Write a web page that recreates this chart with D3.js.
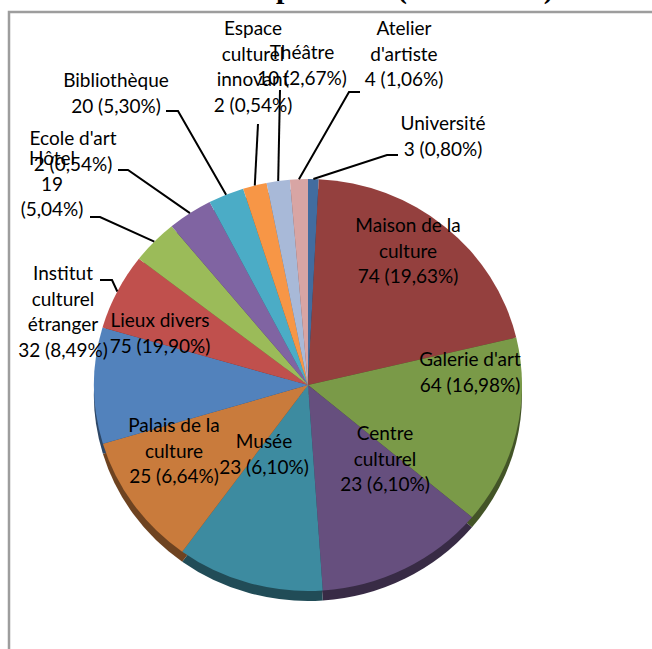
<!DOCTYPE html>
<html>
<head>
<meta charset="utf-8">
<script src="https://cdn.jsdelivr.net/npm/d3@7"></script>
<style>
  body { margin: 0; background: #fff; }
  svg { display: block; }
</style>
</head>
<body>
<svg width="652" height="649"></svg>
<script>
// data, clockwise from 12 o'clock
var categories = ["Université", "Maison de la culture", "Galerie d'art", "Centre culturel", "Musée",
  "Palais de la culture", "Lieux divers", "Institut culturel étranger", "Hôtel", "Ecole d'art",
  "Bibliothèque", "Espace culturel innovant", "Théâtre", "Atelier d'artiste"];
var counts = [3, 74, 64, 23, 23, 25, 75, 32, 19, 2, 20, 2, 10, 4];
var percents = ["0,80", "19,63", "16,98", "6,10", "6,10", "6,64", "19,90", "8,49", "5,04", "0,54", "5,30", "0,54", "2,67", "1,06"];
// share of the circle each slice covers in the picture (it does not follow the labels)
var sliceShares = [0.8, 20.5, 14.8, 12.8, 11.1, 10.4, 9.1, 6.0, 3.5, 3.4, 2.7, 1.8, 1.75, 1.35];

var colors = ["#426c9f", "#94403e", "#7a9a48", "#664f7e", "#3d8ba0", "#c97b3c", "#5282bc",
  "#c0504d", "#9bbb59", "#8064a2", "#4bacc6", "#f79646", "#a8b9d8", "#d8a5a4"];

// where Excel put each label: centre x, first baseline, wrap width, leader start / elbow
var labelLayout = [
  {x: 443, y: 130, w: 100, from: [398, 155], elbow: [387, 155]},
  {x: 408, y: 232, w: 112},
  {x: 470, y: 366, w: 130},
  {x: 385, y: 440, w: 100},
  {x: 264, y: 448, w: 100},
  {x: 174, y: 432, w: 105},
  {x: 160, y: 327, w: 115},
  {x: 63, y: 280, w: 95, from: [100, 280], elbow: [112, 280]},
  {x: 52, y: 165, w: 72, from: [90, 217], elbow: [100, 217]},
  {x: 73, y: 145, w: 100, from: [118, 170], elbow: [128, 170]},
  {x: 116, y: 87, w: 120, from: [166, 111], elbow: [178, 111]},
  {x: 253, y: 35, w: 88, from: [258, 124]},
  {x: 302, y: 59, w: 100, from: [280, 90]},
  {x: 404, y: 35, w: 88, from: [360, 92], elbow: [349, 92]}
];

var svg = d3.select("svg");
var cx = 308, cy = 385, rx = 214, ry = 206, depth = 10, lineH = 25.5;
var labelFont = "Lato, 'Open Sans', sans-serif", labelSize = 19;

// frame
svg.append("rect")
  .attr("x", 9).attr("y", 12)
  .attr("width", 700).attr("height", 700)
  .attr("fill", "none")
  .attr("stroke", "#9d9d9d")
  .attr("stroke-width", 2.5);

// title, cut off by the top of the picture
var title = svg.append("text")
  .attr("y", -2.5)
  .attr("font-family", "'Liberation Serif', 'Times New Roman', serif")
  .attr("font-weight", "bold")
  .attr("font-size", 30)
  .text("Lieux d'expositions (en nombre)");
var pIdx = title.text().indexOf("p");
title.attr("x", 276 - title.node().getStartPositionOfChar(pIdx).x);

var pie = d3.pie().sort(null).value(function(d) { return d; });
var arcs = pie(sliceShares);
var arc = d3.arc().innerRadius(0).outerRadius(rx);
var k = ry / rx;

// side of the 3d pie
var side = svg.append("g")
  .attr("transform", "translate(" + cx + "," + (cy + depth) + ") scale(1," + k + ")");
side.selectAll("path")
  .data(arcs)
  .enter().append("path")
    .attr("d", arc)
    .attr("fill", function(d, i) { return d3.color(colors[i]).darker(1.7); });

// top face
var topFace = svg.append("g")
  .attr("transform", "translate(" + cx + "," + cy + ") scale(1," + k + ")");
topFace.selectAll("path")
  .data(arcs)
  .enter().append("path")
    .attr("d", arc)
    .attr("fill", function(d, i) { return colors[i]; });

// measuring helper for wrapping
var meas = svg.append("text")
  .attr("font-family", labelFont)
  .attr("font-size", labelSize)
  .attr("visibility", "hidden");
function textWidth(s) {
  meas.text(s);
  return meas.node().getComputedTextLength();
}
function wrap(str, maxW) {
  var words = str.split(" "), lines = [], cur = "";
  words.forEach(function(w) {
    var test = cur ? cur + " " + w : w;
    if (cur && textWidth(test) > maxW) { lines.push(cur); cur = w; }
    else cur = test;
  });
  if (cur) lines.push(cur);
  return lines;
}

// leader lines
arcs.forEach(function(d, i) {
  var L = labelLayout[i];
  if (!L.from) return;
  var a = (d.startAngle + d.endAngle) / 2;
  var end = [cx + rx * Math.sin(a), cy - ry * Math.cos(a)];
  var pts = [L.from];
  if (L.elbow) pts.push(L.elbow);
  pts.push(end);
  svg.append("path")
    .attr("d", d3.line()(pts))
    .attr("fill", "none")
    .attr("stroke", "#000")
    .attr("stroke-width", 2);
});

// labels
categories.forEach(function(c, i) {
  var L = labelLayout[i];
  var lines = wrap(c, L.w).concat(wrap(counts[i] + " (" + percents[i] + "%)", L.w));
  var t = svg.append("text")
    .attr("font-family", labelFont)
    .attr("font-size", labelSize)
    .attr("fill", "#000")
    .attr("text-anchor", "middle");
  lines.forEach(function(s, j) {
    t.append("tspan").attr("x", L.x).attr("y", L.y + j * lineH).text(s);
  });
});
meas.remove();
</script>
</body>
</html>
